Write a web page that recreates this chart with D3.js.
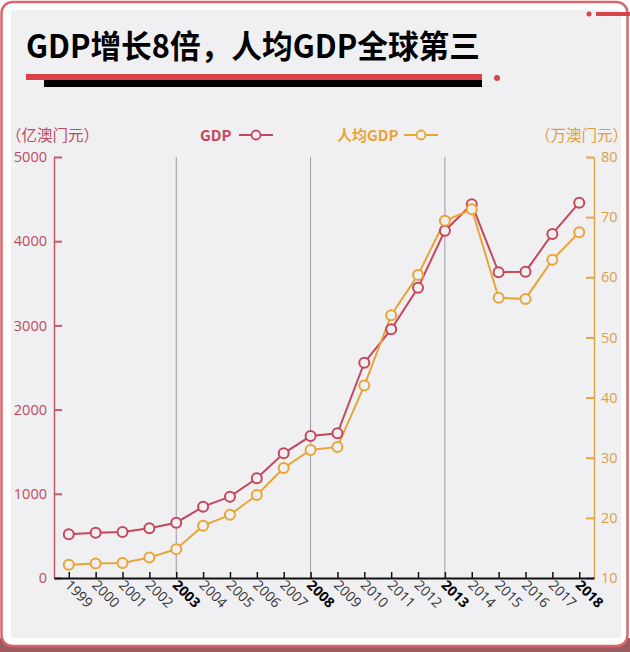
<!DOCTYPE html>
<html><head><meta charset="utf-8">
<script src="https://cdn.jsdelivr.net/npm/d3@7"></script>
<style>html,body{margin:0;padding:0;background:#fff;}svg{display:block;}</style>
</head><body>
<script>
const years = ["1999","2000","2001","2002","2003","2004","2005","2006","2007","2008","2009","2010","2011","2012","2013","2014","2015","2016","2017","2018"];
const gdp = [519, 538, 546, 590, 657, 847, 966, 1184, 1481, 1686, 1718, 2557, 2953, 3448, 4125, 4438, 3631, 3638, 4086, 4457];
const gdpPerCapita = [12.2, 12.4, 12.5, 13.4, 14.8, 18.7, 20.5, 23.8, 28.3, 31.3, 31.8, 42.0, 53.7, 60.4, 69.4, 71.3, 56.6, 56.4, 62.9, 67.5];
const leftTicks = [0, 1000, 2000, 3000, 4000, 5000];
const rightTicks = [10, 20, 30, 40, 50, 60, 70, 80];
const boldYears = ["2003","2008","2013","2018"];
const title = "GDP增长8倍，人均GDP全球第三";
const leftUnit = "（亿澳门元）";
const rightUnit = "（万澳门元）";
const seriesNames = ["GDP", "人均GDP"];

const W = 630, H = 652;
const cGdp = "#c4485c", cPc = "#e8a535", cLeftAxis = "#c25a68", cRightAxis = "#e2a548";
const bg = "#f0f0f3";
const cjk = "'Noto Sans CJK SC','Noto Sans',sans-serif";
const num = "'Open Sans','Noto Sans',sans-serif";

const svg = d3.select("body").append("svg").attr("width", W).attr("height", H);

// frame
svg.append("rect").attr("x",0).attr("y",638).attr("width",W).attr("height",14).attr("fill","#9b5a60");
svg.append("rect").attr("x",1.5).attr("y",2).attr("width",626).attr("height",644).attr("rx",11)
  .attr("fill","#fff").attr("stroke","#d8676c").attr("stroke-width",2.5);
svg.append("rect").attr("x",11).attr("y",10).attr("width",610).attr("height",628).attr("fill",bg);
// top-right decoration
svg.append("circle").attr("cx",589).attr("cy",14).attr("r",2.5).attr("fill","#d9434a");
svg.append("rect").attr("x",596).attr("y",12).attr("width",34).attr("height",4).attr("fill","#d9434a");

// title
svg.append("text").attr("x",26).attr("y",58).text(title)
  .attr("font-family",cjk).attr("font-weight",700).attr("font-size",32).attr("fill","#000")
  .attr("textLength",454).attr("lengthAdjust","spacingAndGlyphs");
svg.append("rect").attr("x",26).attr("y",74).attr("width",456).attr("height",6).attr("fill","#d9434a");
svg.append("rect").attr("x",44).attr("y",80).attr("width",438).attr("height",7).attr("fill","#000");
svg.append("circle").attr("cx",497).attr("cy",78).attr("r",3).attr("fill","#d9434a");

// scales
const x = d3.scalePoint().domain(years).range([54, 594]).padding(0.55);
const yL = d3.scaleLinear().domain([0, 5000]).range([578, 157]);
const yR = d3.scaleLinear().domain([10, 80]).range([578, 157]);

// vertical gray lines
svg.append("g").selectAll("line").data(boldYears.slice(0,3)).join("line")
  .attr("x1", d => x(d)).attr("x2", d => x(d))
  .attr("y1", yL(5000)).attr("y2", yL(0))
  .attr("stroke", "#9a9aa0").attr("stroke-width", 1);

// left axis
const gL = svg.append("g").attr("transform", `translate(54,0)`)
  .call(d3.axisLeft(yL).tickValues(leftTicks).tickFormat(d3.format("d")).tickSize(-8).tickSizeOuter(0).tickPadding(7));
gL.select(".domain").attr("stroke", cLeftAxis).attr("stroke-width", 1.5);
gL.selectAll(".tick line").attr("stroke", cLeftAxis).attr("stroke-width", 2);
gL.selectAll(".tick text").attr("fill", "#c04a5a").attr("font-family", num).attr("font-size", 14.5);

// right axis
const gR = svg.append("g").attr("transform", `translate(594,0)`)
  .call(d3.axisRight(yR).tickValues(rightTicks).tickSize(-8).tickSizeOuter(0).tickPadding(7));
gR.select(".domain").attr("stroke", cRightAxis).attr("stroke-width", 1.5);
gR.selectAll(".tick line").attr("stroke", cRightAxis).attr("stroke-width", 2);
gR.selectAll(".tick text").attr("fill", "#d9a04a").attr("font-family", num).attr("font-size", 14.5);

// x axis
const gX = svg.append("g").attr("transform", `translate(0,578)`)
  .call(d3.axisBottom(x).tickSize(-6).tickSizeOuter(0).tickPadding(0));
gX.select(".domain").attr("stroke", "#111").attr("stroke-width", 2);
gX.selectAll(".tick line").attr("stroke", "#111").attr("stroke-width", 1.5);
gX.selectAll(".tick text")
  .attr("text-anchor", "start").attr("y", 0).attr("dy", 0)
  .attr("transform", "translate(-5,8) rotate(45)")
  .attr("font-family", num).attr("font-size", 14)
  .attr("font-weight", d => boldYears.includes(d) ? 700 : 400)
  .attr("fill", d => boldYears.includes(d) ? "#000" : "#333");

// lines
const lineL = d3.line().x((d,i) => x(years[i])).y(d => yL(d));
const lineR = d3.line().x((d,i) => x(years[i])).y(d => yR(d));
svg.append("path").datum(gdp).attr("d", lineL).attr("fill","none").attr("stroke",cGdp).attr("stroke-width",2);
svg.append("path").datum(gdpPerCapita).attr("d", lineR).attr("fill","none").attr("stroke",cPc).attr("stroke-width",2);
svg.append("g").selectAll("circle").data(gdp).join("circle")
  .attr("cx",(d,i)=>x(years[i])).attr("cy",d=>yL(d)).attr("r",5)
  .attr("fill",bg).attr("stroke",cGdp).attr("stroke-width",2);
svg.append("g").selectAll("circle").data(gdpPerCapita).join("circle")
  .attr("cx",(d,i)=>x(years[i])).attr("cy",d=>yR(d)).attr("r",5)
  .attr("fill",bg).attr("stroke",cPc).attr("stroke-width",2);

// unit labels
svg.append("text").attr("x",6).attr("y",141).text(leftUnit)
  .attr("font-family",cjk).attr("font-size",15.5).attr("fill","#c24a5a");
svg.append("text").attr("x",628).attr("y",141).attr("text-anchor","end").text(rightUnit)
  .attr("font-family",cjk).attr("font-size",15.5).attr("fill","#dc9f45");

// legend
const legend = [
  {name: seriesNames[0], color: cGdp, tx: 200, sx: 239},
  {name: seriesNames[1], color: cPc, tx: 337, sx: 404}
];
legend.forEach(l => {
  svg.append("text").attr("x", l.tx).attr("y", 141).text(l.name)
    .attr("font-family", cjk).attr("font-weight", 700).attr("font-size", 15).attr("fill", l.color);
  svg.append("line").attr("x1", l.sx).attr("x2", l.sx + 34).attr("y1", 135).attr("y2", 135)
    .attr("stroke", l.color).attr("stroke-width", 2);
  svg.append("circle").attr("cx", l.sx + 17).attr("cy", 135).attr("r", 4.5)
    .attr("fill", bg).attr("stroke", l.color).attr("stroke-width", 1.8);
});
</script>
</body></html>
